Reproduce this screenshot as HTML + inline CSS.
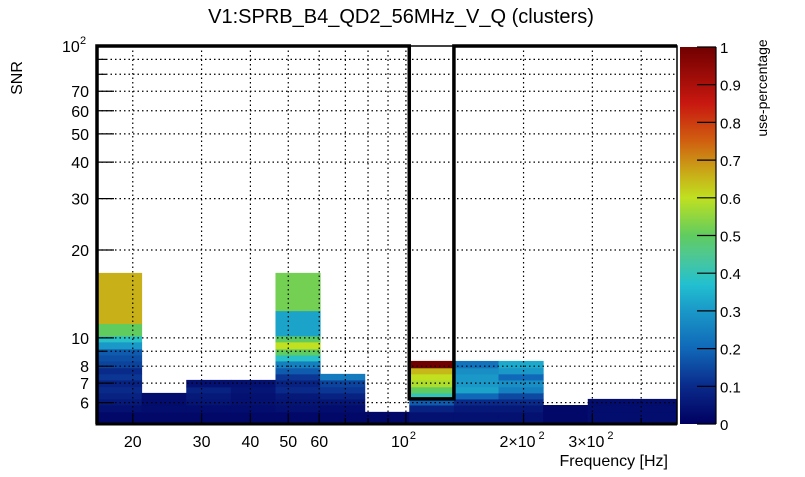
<!DOCTYPE html>
<html><head><meta charset="utf-8"><style>
body{margin:0;background:#fff}
svg text{font-family:"Liberation Sans",Arial,sans-serif}
</style></head><body>
<svg id="c" width="805" height="472" xmlns="http://www.w3.org/2000/svg">
<defs>
<linearGradient id="pal" x1="0" y1="1" x2="0" y2="0">
<stop offset="0" stop-color="#000060"/><stop offset="0.1" stop-color="#0a2a8a"/>
<stop offset="0.2" stop-color="#1068b8"/><stop offset="0.3" stop-color="#1a98c8"/>
<stop offset="0.37" stop-color="#22c0d0"/><stop offset="0.45" stop-color="#50c890"/>
<stop offset="0.5" stop-color="#60cc60"/><stop offset="0.6" stop-color="#c0e020"/>
<stop offset="0.66" stop-color="#c8b018"/><stop offset="0.75" stop-color="#d06010"/>
<stop offset="0.85" stop-color="#c81810"/><stop offset="1" stop-color="#700000"/>
</linearGradient>
</defs>
</svg>
<script>
const xEdges=[16.2,21.07,27.41,35.65,46.37,60.31,78.45,102.0,132.7,172.6,224.5,292.0,379.8,494];
const yEdges=[5.07,5.58,5.89,6.18,6.48,6.80,7.18,7.53,7.9,8.34,8.74,9.17,9.69,10.16,11.2,12.4,16.7];
const colValues=[
 [0.02,0.04,0.06,0.08,0.1,0.08,0.12,0.1,0.14,0.16,0.18,0.3,0.38,0.5,0.66,0.66],
 [0.02,0.03,0.03,0.03],
 [0.02,0.03,0.05,0.06,0.08,0.04],
 [0.02,0.03,0.04,0.04,0.05,0.04],
 [0.02,0.04,0.05,0.06,0.1,0.08,0.12,0.18,0.25,0.38,0.5,0.6,0.5,0.32,0.32,0.52],
 [0.02,0.03,0.05,0.08,0.12,0.14,0.24],
 [0.02],
 [0.04,0.08,0.18,0.4,0.5,0.58,0.6,0.65,1.0],
 [0.04,0.06,0.1,0.2,0.32,0.3,0.3,0.28,0.22],
 [0.04,0.06,0.1,0.15,0.25,0.28,0.2,0.3,0.33],
 [0.02,0.02],
 [0.03,0.03,0.03],
 [0.03,0.03,0.03]
];
const yTickLabels=[[6,"6"],[7,"7"],[8,"8"],[10,"10"],[20,"20"],[30,"30"],[40,"40"],[50,"50"],[60,"60"],[70,"70"]];
const xTickLabels=[[20,"20"],[30,"30"],[40,"40"],[50,"50"],[60,"60"]];
const zTicks=[0,0.1,0.2,0.3,0.4,0.5,0.6,0.7,0.8,0.9,1];

const L=97,R=677,T=46,B=424;
const xMin=16.2,xMax=494,yMin=5.07,yMax=100;
const X=v=>L+(Math.log10(v)-Math.log10(xMin))/(Math.log10(xMax)-Math.log10(xMin))*(R-L);
const Y=v=>B-(Math.log10(v)-Math.log10(yMin))/(Math.log10(yMax)-Math.log10(yMin))*(B-T);
const stops=[[0,[0,0,96]],[0.1,[10,42,138]],[0.2,[16,104,184]],[0.3,[26,152,200]],[0.37,[34,192,208]],[0.45,[80,200,144]],[0.5,[96,204,96]],[0.6,[192,224,32]],[0.66,[200,176,24]],[0.75,[208,96,16]],[0.85,[200,24,16]],[1,[112,0,0]]];
function col(v){for(let i=1;i<stops.length;i++){if(v<=stops[i][0]){const a=stops[i-1],b=stops[i],t=(v-a[0])/(b[0]-a[0]);return 'rgb('+a[1].map((c,k)=>Math.round(c+(b[1][k]-c)*t)).join(',')+')';}}return 'rgb(112,0,0)';}
const svg=document.getElementById('c');const NS='http://www.w3.org/2000/svg';
function mk(tag,a,txt){const e=document.createElementNS(NS,tag);for(const k in a)e.setAttribute(k,a[k]);if(txt!==undefined)e.textContent=txt;svg.appendChild(e);return e;}

colValues.forEach((vals,i)=>{vals.forEach((v,j)=>{
 const x0=X(xEdges[i]),x1=X(xEdges[i+1]),y0=Y(yEdges[j+1]),y1=Y(yEdges[j]);
 const r=mk('rect',{x:x0,y:y0,width:x1-x0+0.5,height:y1-y0+0.5,fill:col(v)});
 
 
});});

const gx=[20,30,40,50,60,70,80,90,100,200,300,400];
gx.forEach(v=>{const l=mk('line',{x1:X(v),x2:X(v),y1:T,y2:B,stroke:'#000','stroke-dasharray':'1.5,3','stroke-width':1.2});});
const gy=[6,7,8,9,10,20,30,40,50,60,70,80,90];
gy.forEach(v=>{const l=mk('line',{x1:L,x2:R,y1:Y(v),y2:Y(v),stroke:'#000','stroke-dasharray':'1.5,3','stroke-width':1.2});});

[6,7,8,9,10,20,30,40,50,60,70,80,90].forEach(v=>{const maj=yTickLabels.some(t=>t[0]==v);mk('line',{x1:L,x2:L+(maj?17:9),y1:Y(v),y2:Y(v),stroke:'#000','stroke-width':1.2});});
gx.forEach(v=>{const maj=[20,30,40,50,60,100,200,300].includes(v);mk('line',{x1:X(v),x2:X(v),y1:B,y2:B-(maj?11:6),stroke:'#000','stroke-width':1.2});});

yTickLabels.forEach(t=>{const e=mk('text',{x:L-8,y:Y(t[0])+6,'font-size':16,'text-anchor':'end'},t[1]);});
{const e=mk('text',{x:62,y:Y(100)+6,'font-size':16},'10');
 mk('text',{x:80,y:Y(100)-2,'font-size':11},'2');}
xTickLabels.forEach(t=>{const e=mk('text',{x:X(t[0]),y:447,'font-size':16,'text-anchor':'middle'},t[1]);});
[[100,'10'],[200,'2×10'],[300,'3×10']].forEach(t=>{const e=mk('text',{x:X(t[0])-6,y:447,'font-size':16,'text-anchor':'middle'},t[1]);
 const w=t[1].length>2?20:9;mk('text',{x:X(t[0])-6+w+1,y:439,'font-size':11},'2');});

const f=mk('rect',{x:L,y:T,width:R-L,height:B-T,fill:'none',stroke:'#000','stroke-width':1.5});
const ox0=X(xEdges[7]),ox1=X(xEdges[8]),oy=Y(yEdges[3]);
const p=mk('path',{d:`M${L},${B} L${L},${T} L${ox0},${T} L${ox0},${oy} L${ox1},${oy} L${ox1},${T} L${R},${T}`,fill:'none',stroke:'#000','stroke-width':3.5});

mk('line',{x1:L-1.5,x2:R,y1:B,y2:B,stroke:'#000','stroke-width':3});

const cb=mk('rect',{x:680,y:47,width:36,height:377,fill:'url(#pal)'});
zTicks.forEach(v=>{const y=424-v*377;mk('line',{x1:697,x2:716,y1:y,y2:y,stroke:'#000','stroke-width':1.2});
 const e=mk('text',{x:720,y:y+6,'font-size':15},String(v));});
mk('line',{x1:716,x2:716,y1:47,y2:424,stroke:'#000','stroke-width':1.2});
</script>
<div style="position:absolute;left:0;top:0;width:805px;height:472px;pointer-events:none">
<svg width="805" height="472" xmlns="http://www.w3.org/2000/svg">
<text x="401" y="23" font-size="20" text-anchor="middle" font-family="Liberation Sans,sans-serif">V1:SPRB_B4_QD2_56MHz_V_Q (clusters)</text>
<text x="668" y="466" font-size="16" text-anchor="end" font-family="Liberation Sans,sans-serif">Frequency [Hz]</text>
<text transform="translate(22,78) rotate(-90)" font-size="16" text-anchor="middle" font-family="Liberation Sans,sans-serif">SNR</text>
<text transform="translate(767,88) rotate(-90)" font-size="14" text-anchor="middle" font-family="Liberation Sans,sans-serif">use-percentage</text>
</svg></div>
</body></html>
